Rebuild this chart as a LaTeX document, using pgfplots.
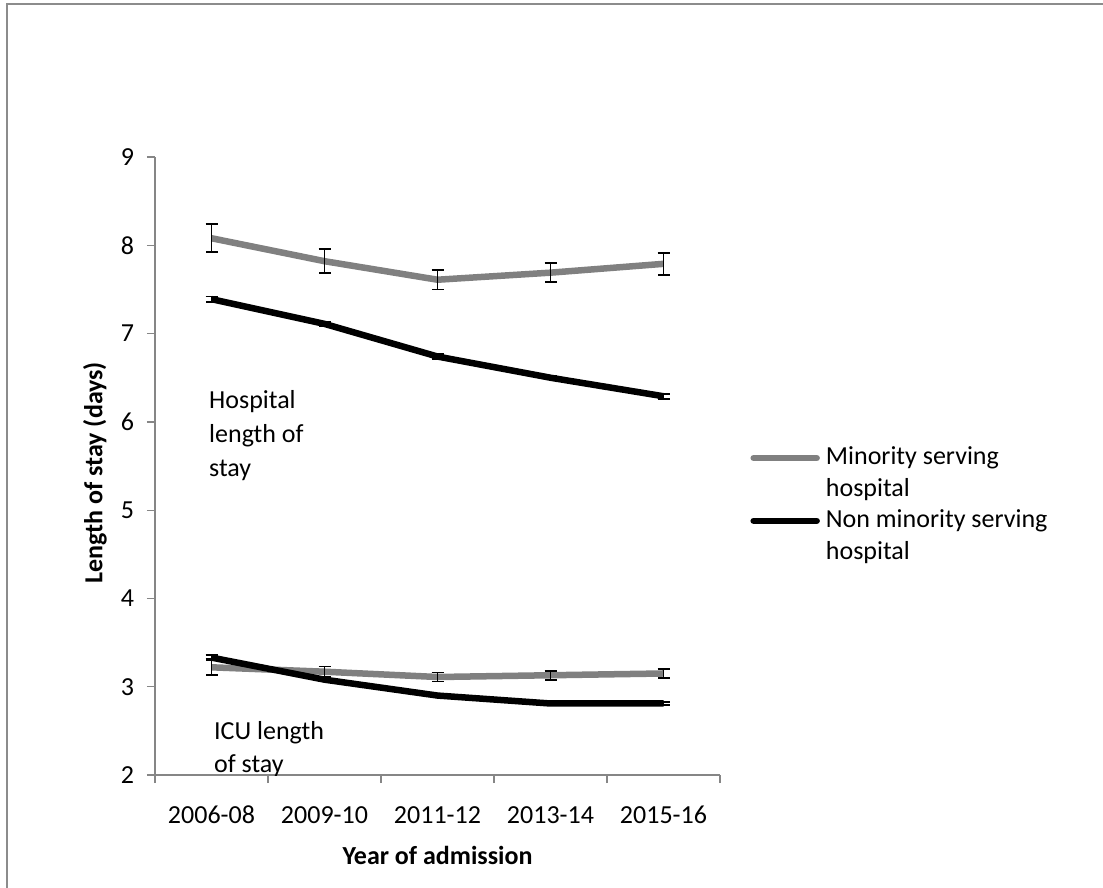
\documentclass[border=0pt]{standalone}
\usepackage{pgfplots}
\pgfplotsset{compat=1.18}
\usepackage{fontspec}
\setmainfont{Carlito}
\definecolor{sergray}{RGB}{128,128,128}
\definecolor{axgray}{RGB}{134,134,134}
\definecolor{framegray}{RGB}{140,140,140}
\begin{document}
\fontsize{26}{33}\selectfont
\begin{tikzpicture}
\useasboundingbox (0,0) rectangle (1103pt,-888pt);
\draw[framegray, line width=2.5pt] (7pt,-888pt) -- (7pt,-4.25pt) -- (1103pt,-4.25pt);
\begin{axis}[
  at={(155pt,-775pt)}, anchor=south west,
  scale only axis, width=565pt, height=618pt,
  xmin=-0.5, xmax=4.5, ymin=2, ymax=9,
  axis x line*=bottom, axis y line*=left,
  axis line style={axgray, line width=1.3pt},
  tick style={axgray, line width=1.3pt},
  tick align=outside, major tick length=8pt,
  xtick={-0.5,0.5,1.5,2.5,3.5,4.5}, x tick label as interval,
  xticklabels={2006-08,2009-10,2011-12,2013-14,2015-16},
  ytick={2,3,4,5,6,7,8,9},
  ticklabel style={font=\fontsize{26}{33}\selectfont},
  xticklabel style={anchor=base, yshift=-40pt},
  yticklabel style={xshift=-4pt},
  /pgf/number format/assume math mode=true,
  xlabel={Year of admission}, ylabel={Length of stay (days)},
  label style={font=\fontsize{26}{33}\selectfont\bfseries},
  xlabel style={at={(axis description cs:0.5,-0.1455)}, anchor=base},
  ylabel style={at={(axis description cs:-0.1062,0.489)}, anchor=center},
  legend style={draw=none, fill=none, at={(axis description cs:1.0535,0.532)}, anchor=north west,
    inner sep=0pt, row sep=9pt, column sep=6pt,
    nodes={inner sep=0pt, align=left, font=\fontsize{26}{32}\selectfont}},
  legend cell align=left,
  legend image code/.code={\draw[#1, line cap=round] (0pt,0.3em+7.5pt) -- (63pt,0.3em+7.5pt);},
  error bars/y dir=both, error bars/y explicit,
  error bars/error bar style={black, line width=1.8pt},
  error bars/error mark options={rotate=90, mark size=6pt, line width=1.8pt, black},
]
\addplot[sergray, line width=6.5pt, mark=none] coordinates {
  (0,8.08) +- (0,0.16)
  (1,7.82) +- (0,0.135)
  (2,7.61) +- (0,0.11)
  (3,7.69) +- (0,0.11)
  (4,7.79) +- (0,0.125)
};
\addlegendentry{Minority serving\\hospital}
\addplot[black, line width=6.5pt, mark=none] coordinates {
  (0,7.39) +- (0,0.03)
  (1,7.11) +- (0,0.025)
  (2,6.74) +- (0,0.025)
  (3,6.50) +- (0,0.02)
  (4,6.29) +- (0,0.03)
};
\addlegendentry{Non minority serving\\hospital}
\addplot[sergray, line width=6.5pt, mark=none, forget plot] coordinates {
  (0,3.22) +- (0,0.09)
  (1,3.17) +- (0,0.06)
  (2,3.11) +- (0,0.05)
  (3,3.13) +- (0,0.05)
  (4,3.15) +- (0,0.05)
};
\addplot[black, line width=6.5pt, mark=none, forget plot] coordinates {
  (0,3.33) +- (0,0.03)
  (1,3.08) +- (0,0.02)
  (2,2.90) +- (0,0.02)
  (3,2.81) +- (0,0.02)
  (4,2.81) +- (0,0.02)
};
\node[anchor=base west, align=left, inner sep=0pt, font=\fontsize{26}{34}\selectfont] at (axis cs:-0.022,5.376) {Hospital\\length of\\stay};
\node[anchor=base west, align=left, inner sep=0pt, font=\fontsize{26}{33}\selectfont] at (axis cs:0.022,2.024) {ICU length\\of stay};
\end{axis}
\end{tikzpicture}
\end{document}
